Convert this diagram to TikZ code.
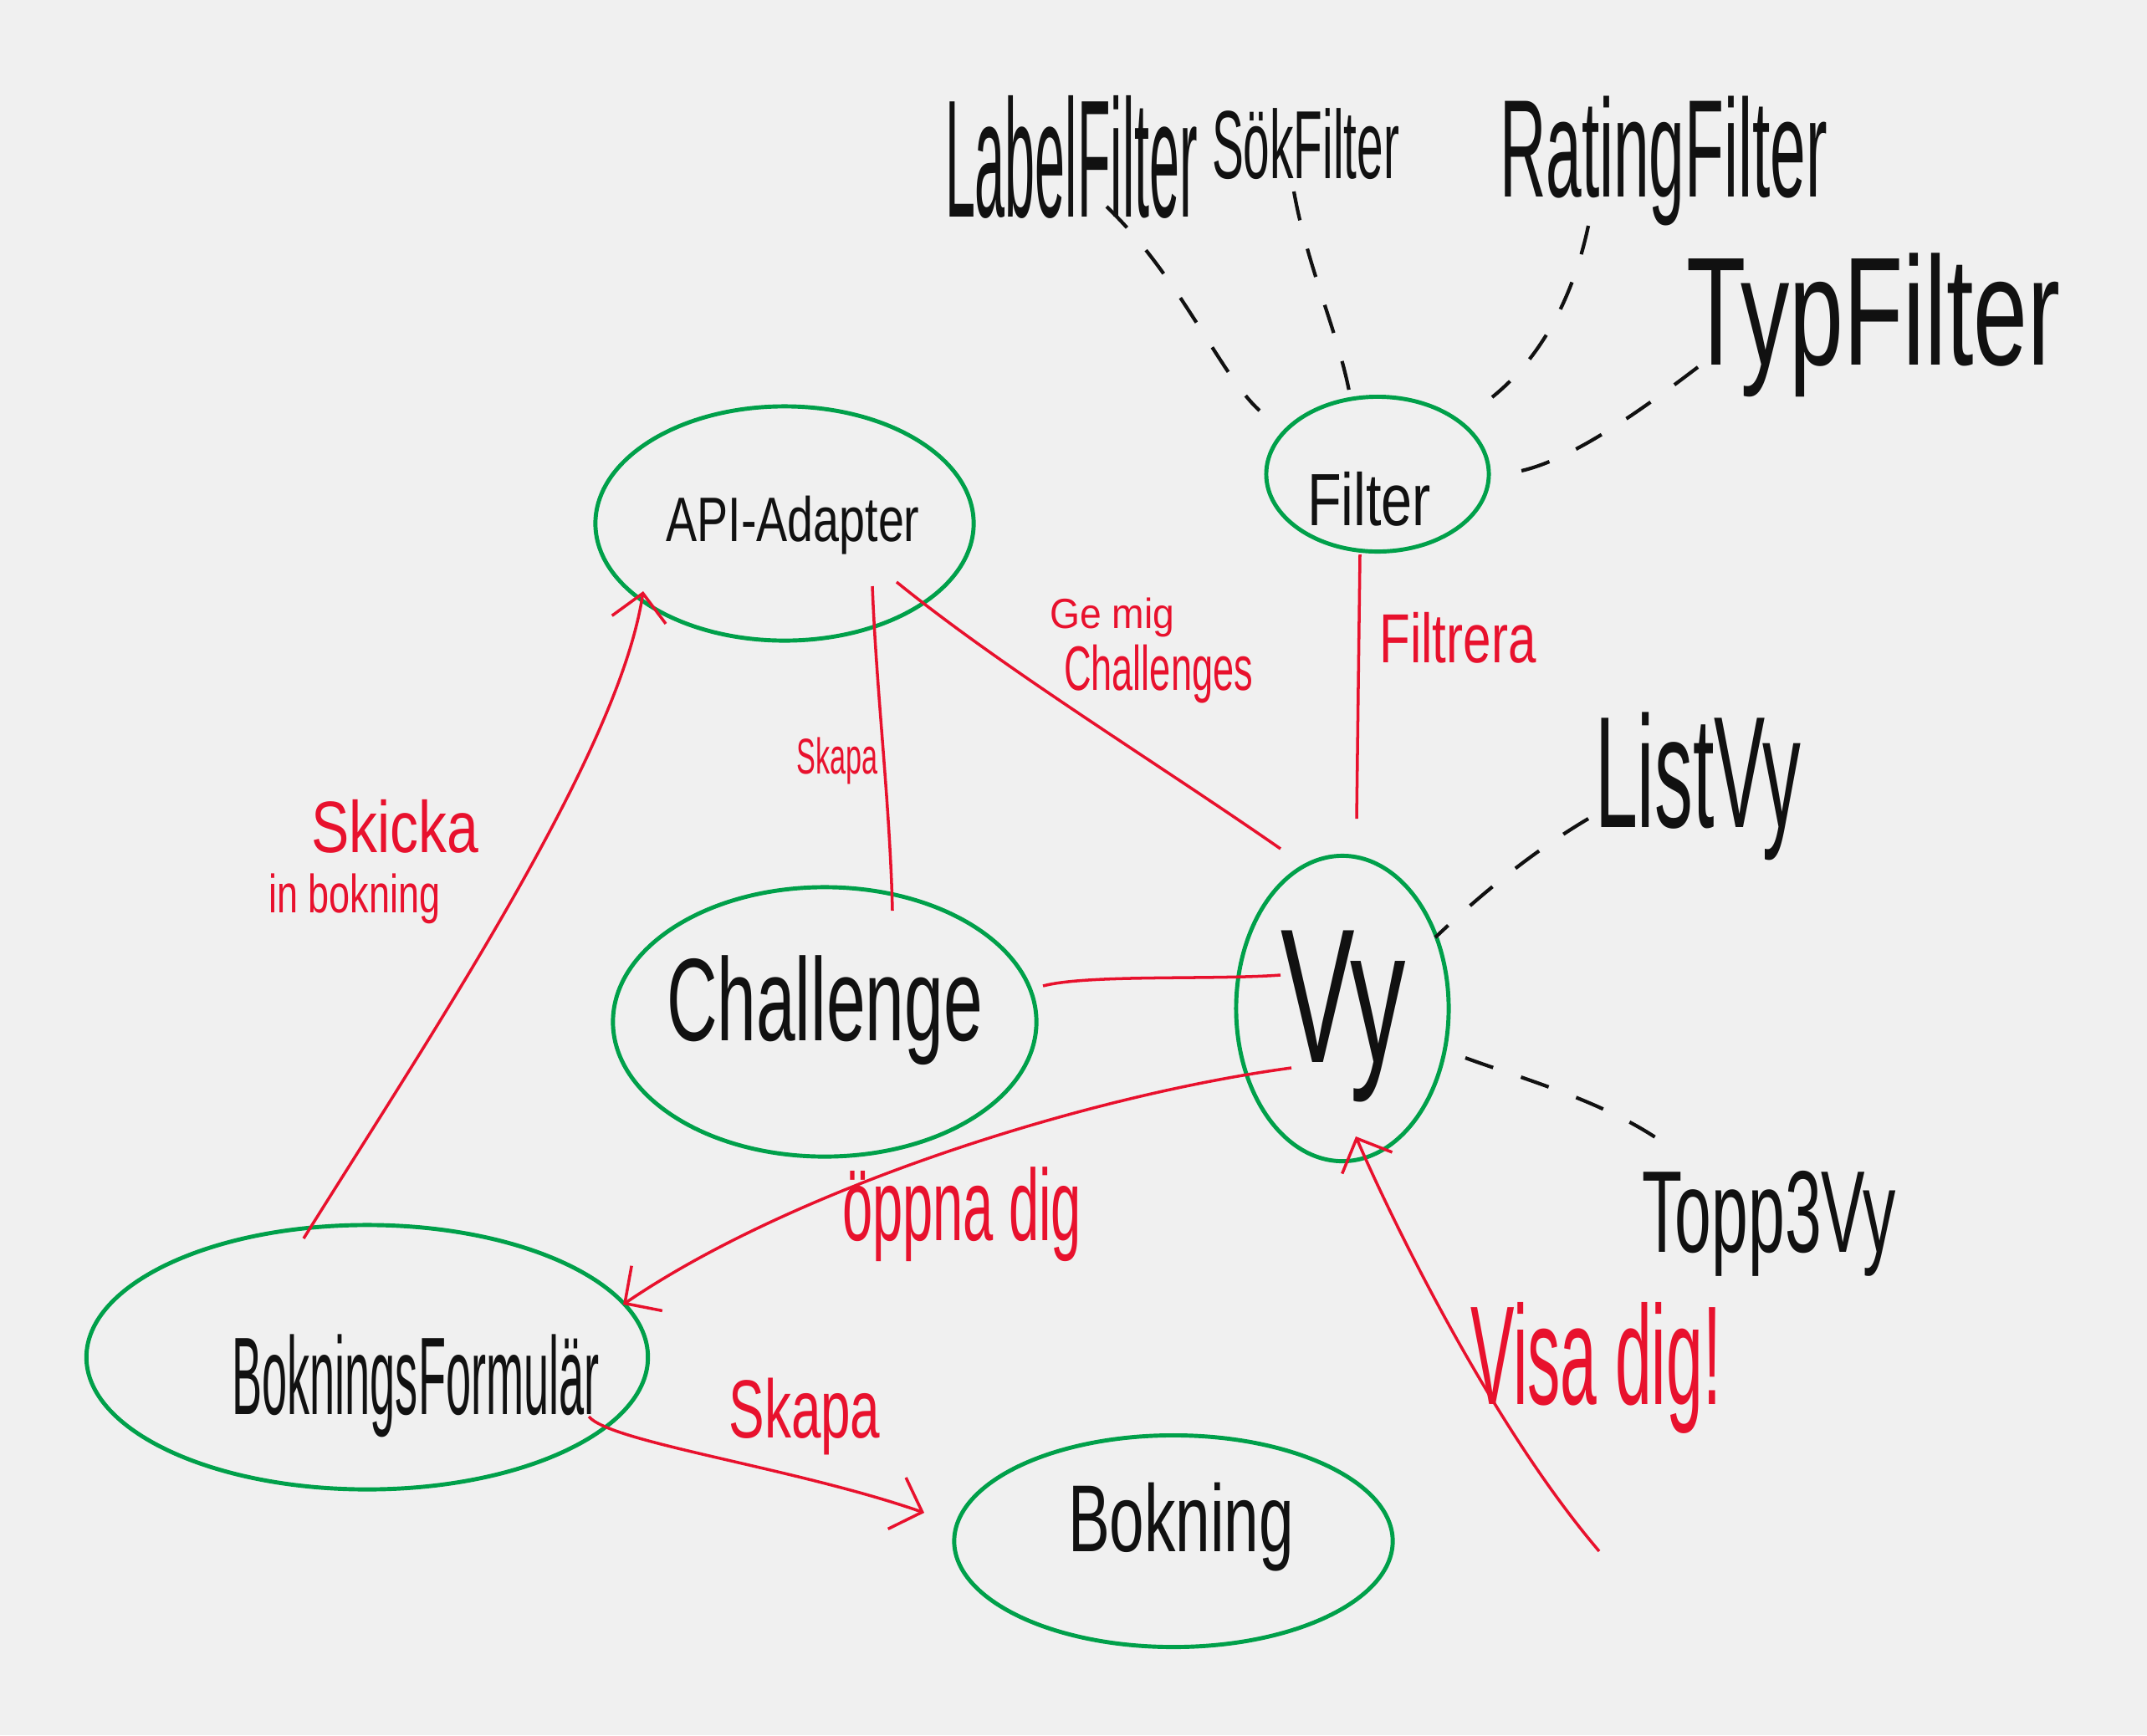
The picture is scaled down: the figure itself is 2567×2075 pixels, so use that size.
\documentclass[tikz,border=0pt]{standalone}
\usepackage{fontspec}
\setmainfont{Liberation Sans}
\usetikzlibrary{shapes.geometric,arrows.meta,calc}
\definecolor{bg}{HTML}{F0F0F0}
\definecolor{grn}{HTML}{00A04A}
\definecolor{rd}{HTML}{E8112D}
\definecolor{ink}{HTML}{111111}
\newlength\hwpx
\setlength\hwpx{0.01cm}
\newcommand{\hw}[3]{\resizebox*{#1\hwpx}{#2\hwpx}{#3}}
\tikzset{
  blob/.style={ellipse, draw=grn, line width=1.4pt, inner sep=0pt},
  lab/.style={inner sep=0pt, text=ink},
  rlab/.style={inner sep=0pt, text=rd},
  rline/.style={draw=rd, line width=1pt},
  rarrow/.style={rline, -{Straight Barb[length=0.32cm,width=0.65cm]}},
  dline/.style={draw=ink, line width=1.2pt, dash pattern=on 10pt off 10pt}
}
\begin{document}
\begin{tikzpicture}[x=0.01cm,y=-0.01cm]
\fill[bg] (0,0) rectangle (2567,2075);
\useasboundingbox (0,0) rectangle (2567,2075);

% ellipses
\node[blob, minimum width=4.52cm, minimum height=2.80cm] (api) at (938,626) {};
\node[blob, minimum width=2.66cm, minimum height=1.85cm] (filt) at (1647,567) {};
\node[blob, minimum width=5.06cm, minimum height=3.22cm] (chal) at (986,1222) {};
\node[blob, minimum width=2.54cm, minimum height=3.65cm] (vy) at (1605,1206) {};
\node[blob, minimum width=6.71cm, minimum height=3.16cm] (bf) at (439,1623) {};
\node[blob, minimum width=5.24cm, minimum height=2.53cm] (bok) at (1403,1843) {};

% black labels
\node[lab] (apit) at (948,628) {\hw{303}{70}{API-Adapter}};
\node[lab] (filtt) at (1637,597) {\hw{148}{65}{Filter}};
\node[lab] (chalt) at (986,1208) {\hw{378}{131}{Challenge}};
\node[lab] (vyt) at (1606,1215) {\hw{150}{205}{Vy}};
\node[lab] (bft) at (497,1657) {\hw{439}{123}{BokningsFormulär}};
\node[lab] (bokt) at (1412,1826) {\hw{270}{106}{Bokning}};
\node[lab] (lblt) at (1281,188) {\hw{302}{147}{LabelFilter}};
\node[lab] (sokt) at (1561,172) {\hw{224}{85}{SökFilter}};
\node[lab] (ratt) at (1989,192) {\hw{392}{155}{RatingFilter}};
\node[lab] (typt) at (2240,389) {\hw{447}{172}{TypFilter}};
\node[lab] (listt) at (2030,940) {\hw{246}{177}{ListVy}};
\node[lab] (toppt) at (2115,1463) {\hw{303}{126}{Topp3Vy}};

% red labels
\node[rlab] (filtrera) at (1743,763) {\hw{187}{61}{Filtrera}};
\node[rlab] (gemig) at (1330,738) {\hw{149}{47}{Ge mig}};
\node[rlab] (chs) at (1385,806) {\hw{226}{70}{Challenges}};
\node[rlab] (skp) at (1001,910) {\hw{97}{56}{Skapa}};
\node[rlab] (skicka) at (472,988) {\hw{200}{64}{Skicka}};
\node[rlab] (inbok) at (424,1075) {\hw{205}{60}{in bokning}};
\node[rlab] (oppna) at (1150,1452) {\hw{286}{113}{öppna dig}};
\node[rlab] (visa) at (1908,1636) {\hw{300}{157}{Visa dig!}};
\node[rlab] (skapa) at (962,1694) {\hw{181}{92}{Skapa}};

% dashed black connectors
\draw[dline] ($(lblt)+(42,59)$) .. controls (1410,330) and (1460,450) .. ($(filt)+(-141,-76)$);
\draw[dline] ($(sokt)+(-14,57)$) .. controls (1565,330) and (1610,420) .. ($(filt)+(-30,-72)$);
\draw[dline] ($(ratt)+(-90,78)$) .. controls (1880,360) and (1840,430) .. ($(filt)+(137,-92)$);
\draw[dline] ($(typt)+(-210,50)$) .. controls (1950,500) and (1870,555) .. ($(filt)+(162,-2)$);
\draw[dline] ($(listt)+(-131,39)$) .. controls (1830,1020) and (1770,1070) .. ($(vy)+(111,-85)$);
\draw[dline] ($(vy)+(147,59)$) .. controls (1820,1290) and (1930,1320) .. ($(toppt)+(-115,-88)$);

% red connectors
\draw[rline] ($(api)+(105,75)$) .. controls (1048,830) and (1064,960) .. ($(chal)+(81,-133)$);
\draw[rline] ($(api)+(134,70)$) .. controls (1200,800) and (1380,910) .. ($(vy)+(-74,-191)$);
\draw[rline] ($(filt)+(-21,96)$) -- ($(vy)+(17,-227)$);
\draw[rline] ($(chal)+(261,-43)$) .. controls (1300,1165) and (1450,1172) .. ($(vy)+(-74,-40)$);
\draw[rarrow] ($(vy)+(-61,71)$) .. controls (1300,1310) and (950,1420) .. ($(bf)+(306,-63)$);
\draw[rarrow] ($(bf)+(-76,-142)$) .. controls (520,1230) and (740,900) .. ($(api)+(-169,81)$);
\draw[rarrow] ($(bf)+(265,71)$) .. controls (730,1725) and (950,1755) .. ($(bok)+(-298,-34)$);
\coordinate (visastart) at (1912,1855);
\draw[rarrow] (visastart) .. controls (1780,1700) and (1660,1450) .. ($(vy)+(16,153)$);
\end{tikzpicture}
\end{document}
